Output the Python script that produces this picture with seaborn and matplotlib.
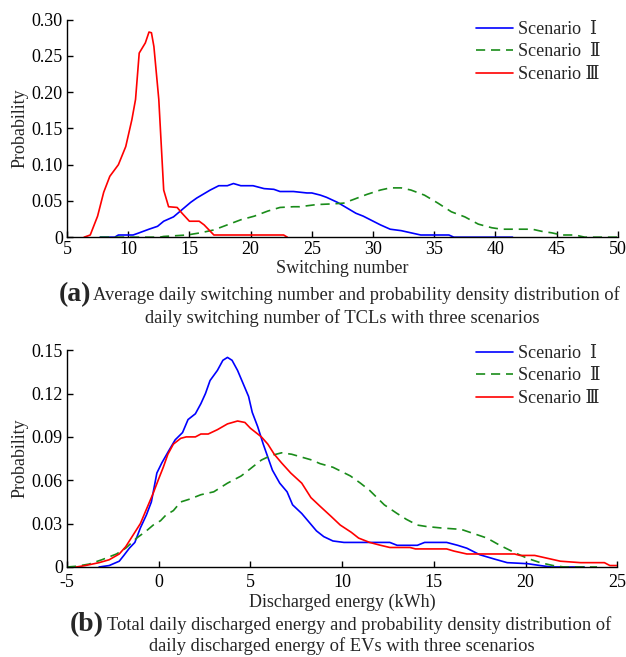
import numpy as np
import pandas as pd
import seaborn as sns
import matplotlib.pyplot as plt
from matplotlib.ticker import FuncFormatter

# (a) switching number of TCLs
s1_x = [7.7, 8.9, 9.2, 10.4, 10.9, 11.7, 12.4, 12.9, 13.7, 14.4, 15.1, 15.6, 16.3, 16.7, 17.4, 18.1,
        18.6, 19.2, 20.2, 21.1, 21.9, 22.4, 23.5, 24.6, 25.0, 25.7, 26.2, 27.1, 27.9, 28.6, 29.2,
        30.6, 31.4, 32.3, 33.1, 33.9, 36.2, 36.6, 41.4]
s1_y = [0, 0, 0.003, 0.003, 0.006, 0.011, 0.015, 0.022, 0.028, 0.038, 0.048, 0.054, 0.061, 0.065,
        0.071, 0.071, 0.074, 0.071, 0.071, 0.067, 0.066, 0.063, 0.063, 0.061, 0.061, 0.058, 0.055,
        0.048, 0.040, 0.033, 0.029, 0.017, 0.011, 0.009, 0.006, 0.003, 0.003, 0, 0]
s2_x = [7.7, 12.6, 12.9, 14.8, 15.9, 17.0, 18.1, 19.2, 20.3, 21.4, 22.4, 23.5, 24.0, 25.4, 26.8,
        27.6, 28.4, 29.5, 30.6, 31.4, 32.3, 33.1, 34.2, 35.3, 36.4, 37.5, 38.6, 39.7, 40.5, 43.0,
        43.8, 44.6, 45.4, 46.5, 47.3, 50.0]
s2_y = [0, 0, 0.001, 0.003, 0.006, 0.010, 0.017, 0.024, 0.029, 0.036, 0.041, 0.042, 0.042, 0.045,
        0.046, 0.047, 0.052, 0.059, 0.065, 0.068, 0.068, 0.065, 0.058, 0.047, 0.035, 0.028, 0.018,
        0.013, 0.011, 0.011, 0.008, 0.006, 0.003, 0.003, 0, 0]
s3_x = [6.4, 6.9, 7.5, 8.0, 8.5, 9.2, 9.8, 10.3, 10.6, 10.9, 11.4, 11.7, 11.9, 12.1, 12.5, 12.9,
        13.3, 14.0, 14.4, 15.0, 15.8, 16.2, 17.0, 22.7, 23.0]
s3_y = [0, 0.003, 0.029, 0.062, 0.084, 0.100, 0.125, 0.162, 0.190, 0.254, 0.268, 0.283, 0.282,
        0.263, 0.190, 0.065, 0.042, 0.041, 0.033, 0.022, 0.022, 0.017, 0.003, 0.003, 0]

# (b) discharged energy of EVs
e1_x = [-3.25, -2.7, -2.15, -1.9, -1.6, -1.3, -1.0, -0.67, -0.4, -0.1, 0.17, 0.53, 0.9, 1.3, 1.6,
        2.0, 2.3, 2.55, 2.8, 3.2, 3.5, 3.75, 4.0, 4.3, 4.6, 4.9, 5.1, 5.4, 5.7, 5.95, 6.2, 6.6,
        7.0, 7.3, 7.8, 8.2, 8.6, 9.0, 9.5, 10.1, 12.6, 13.0, 14.1, 14.5, 15.7, 16.3, 16.8, 17.5,
        18.3, 19.0, 20.1, 20.8, 21.4, 23.2]
e1_y = [0, 0.001, 0.004, 0.008, 0.013, 0.017, 0.027, 0.036, 0.045, 0.065, 0.072, 0.080, 0.088,
        0.093, 0.102, 0.106, 0.113, 0.120, 0.129, 0.136, 0.143, 0.145, 0.143, 0.136, 0.127, 0.118,
        0.107, 0.097, 0.085, 0.076, 0.067, 0.058, 0.052, 0.043, 0.037, 0.031, 0.025, 0.021,
        0.018, 0.017, 0.017, 0.015, 0.015, 0.017, 0.017, 0.015, 0.013, 0.0085, 0.0055, 0.003,
        0.0023, 0.001, 0, 0]
e2_x = [-5.0, -4.5, -3.8, -3.1, -2.3, -1.8, -1.2, -0.67, -0.3, 0.1, 0.4, 0.8, 1.2, 1.7, 2.3, 3.0,
        3.75, 4.5, 5.0, 5.6, 6.1, 6.7, 7.25, 7.8, 8.35, 8.8, 9.5, 10.45, 11.0, 11.5, 12.3, 13.0,
        13.5, 14.1, 14.6, 15.4, 16.5, 17.2, 17.9, 18.6, 19.4, 20.1, 20.8, 21.5, 22.1, 23.9]
e2_y = [0, 0.0005, 0.002, 0.005, 0.009, 0.013, 0.020, 0.025, 0.029, 0.032, 0.036, 0.039, 0.045,
        0.047, 0.050, 0.052, 0.058, 0.063, 0.068, 0.074, 0.077, 0.079, 0.078, 0.076, 0.074,
        0.0715, 0.069, 0.063, 0.058, 0.053, 0.043, 0.037, 0.033, 0.029, 0.028, 0.027, 0.026,
        0.023, 0.020, 0.015, 0.010, 0.006, 0.003, 0.001, 0, 0]
e3_x = [-4.5, -4.0, -3.25, -2.7, -2.15, -1.8, -1.4, -1.0, -0.6, -0.3, 0.0, 0.25, 0.5, 0.8, 1.2,
        1.5, 2.0, 2.3, 2.7, 3.2, 3.75, 4.3, 4.7, 5.0, 5.6, 5.95, 6.3, 6.7, 7.2, 7.8, 8.3, 8.8,
        9.4, 9.9, 10.5, 10.9, 11.5, 12.1, 12.6, 13.7, 14.0, 15.7, 16.1, 16.8, 17.9, 19.4, 19.7,
        20.5, 21.2, 21.9, 23.0, 24.3, 24.6, 25.0]
e3_y = [0, 0.001, 0.003, 0.005, 0.009, 0.014, 0.022, 0.030, 0.042, 0.051, 0.061, 0.069, 0.078,
        0.085, 0.089, 0.090, 0.090, 0.092, 0.092, 0.095, 0.099, 0.101, 0.100, 0.096, 0.090,
        0.085, 0.078, 0.072, 0.065, 0.058, 0.048, 0.042, 0.035, 0.029, 0.024, 0.020, 0.017,
        0.015, 0.0135, 0.0135, 0.0125, 0.0125, 0.011, 0.009, 0.009, 0.009, 0.008, 0.008, 0.006,
        0.004, 0.003, 0.003, 0.001, 0.001]

labels = ['Scenario  \u2160', 'Scenario  \u2161', 'Scenario \u2162']
colors = ['#0000ff', '#1a8c1a', '#ff0000']

sns.set_style('ticks')
plt.rcParams['font.family'] = ['Liberation Serif', 'DejaVu Serif', 'Noto Sans CJK SC']
plt.rcParams['xtick.direction'] = 'in'
plt.rcParams['ytick.direction'] = 'in'
plt.rcParams['axes.edgecolor'] = 'black'
plt.rcParams['axes.linewidth'] = 1.0
plt.rcParams['axes.unicode_minus'] = False
fs = 13
dash = (5.5, 3.5)

fig = plt.figure(figsize=(6.26, 6.57), dpi=100)
ax1 = fig.add_axes([0.107, 0.639, 0.880, 0.331])
ax2 = fig.add_axes([0.107, 0.137, 0.879, 0.330])


def draw(ax, series, leg_top):
    for (x, y), lab, c in zip(series, labels, colors):
        df = pd.DataFrame({'x': x, 'y': y})
        sns.lineplot(data=df, x='x', y='y', ax=ax, color=c, lw=1.2, label=lab,
                     estimator=None, sort=False)
    ax.lines[1].set_dashes(dash)
    leg = ax.legend(loc='upper left', frameon=False, fontsize=fs, handlelength=2.05,
                    handletextpad=0.3, labelspacing=0.3, borderpad=0, borderaxespad=0,
                    bbox_to_anchor=(476 / 626, 1 - leg_top / 657), bbox_transform=fig.transFigure)
    leg.legend_handles[1].set_dashes(dash)
    sns.despine(ax=ax)
    ax.tick_params(labelsize=fs, length=4, width=1, colors='black', pad=3)
    ax.yaxis.set_major_formatter(FuncFormatter(lambda v, p: '0' if abs(v) < 1e-9 else f'{v:.2f}'))
    ax.set_ylabel('Probability', fontsize=fs, labelpad=2)


draw(ax1, [(s1_x, s1_y), (s2_x, s2_y), (s3_x, s3_y)], 21)
ax1.set_xlim(5, 50)
ax1.set_ylim(0, 0.30)
ax1.set_xticks(np.arange(5, 51, 5))
ax1.set_yticks(np.arange(0, 0.301, 0.05))
ax1.set_xlabel('Switching number', fontsize=fs, labelpad=1)

draw(ax2, [(e1_x, e1_y), (e2_x, e2_y), (e3_x, e3_y)], 345)
ax2.set_xlim(-5, 25)
ax2.set_ylim(0, 0.15)
ax2.set_xticks(np.arange(-5, 26, 5))
ax2.set_yticks(np.arange(0, 0.151, 0.03))
ax2.tick_params(axis='x', pad=5)
ax2.set_xlabel('Discharged energy (kWh)', fontsize=fs, labelpad=2)

cap = 13.3
fig.text(91 / 626, 1 - 295 / 657, '(a)', fontsize=20, fontweight='bold', ha='right', va='center')
fig.text(93 / 626, 1 - 295 / 657,
         'Average daily switching number and probability density distribution of',
         fontsize=cap, ha='left', va='center')
fig.text(342 / 626, 1 - 318 / 657, 'daily switching number of TCLs with three scenarios',
         fontsize=cap, ha='center', va='center')
fig.text(104 / 626, 1 - 625 / 657, '(b)', fontsize=20, fontweight='bold', ha='right', va='center')
fig.text(107 / 626, 1 - 625 / 657,
         'Total daily discharged energy and probability density distribution of',
         fontsize=cap, ha='left', va='center')
fig.text(342 / 626, 1 - 646 / 657, 'daily discharged energy of EVs with three scenarios',
         fontsize=cap, ha='center', va='center')

fig.savefig('out.png', dpi=100)
